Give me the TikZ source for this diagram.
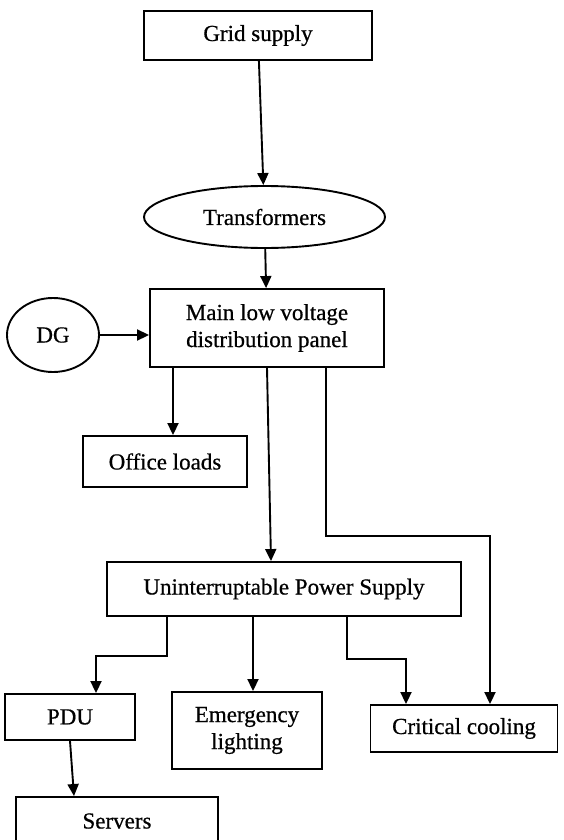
\documentclass[tikz,border=0pt]{standalone}
\usepackage{fontspec}
\setmainfont{Liberation Serif}
\newfontfamily\diagfont[FakeBold=0.6]{Liberation Serif}
\usetikzlibrary{shapes.geometric,arrows.meta,positioning,calc}

\begin{document}
\begin{tikzpicture}[x=1pt,y=-1pt,
    arrow/.style = {line width=1.9pt,-{Triangle[length=12pt,width=11pt]}}]
	\tikzset{blk/.style={draw,line width=1.9pt,rectangle,inner sep=0pt,align=center,font=\diagfont\fontsize{23}{27}\selectfont}}
	\tikzset{oval/.style={draw,line width=1.9pt,ellipse,inner sep=0pt,align=center,font=\diagfont\fontsize{23}{27}\selectfont}}

	\useasboundingbox (0,0) rectangle (563,840);

	% Supply side
	\node[blk, minimum width=228pt, minimum height=49pt] (grid) at (258,35.5) {Grid supply};

	\node[oval, minimum width=241pt, minimum height=62pt] (trans) at (264.5,217) {Transformers};

	\node[blk, minimum width=234pt, minimum height=78pt] (panel) at (267,328) {Main low voltage\\distribution panel};

	\node[oval, minimum width=92pt, minimum height=74pt] (dg) at (53,335) {DG};

	% Loads
	\node[blk, minimum width=164pt, minimum height=51pt] (office) at (165,461.5) {Office loads};

	\node[blk, minimum width=354pt, minimum height=54pt] (ups) at (284,589) {Uninterruptable Power Supply};

	\node[blk, minimum width=130pt, minimum height=46pt] (pdu) at (70,717) {PDU};

	\node[blk, minimum width=150pt, minimum height=77pt] (emer) at (247,730.5) {Emergency\\lighting};

	\node[blk, minimum width=187pt, minimum height=47pt] (cool) at (464,728.5) {Critical cooling};

	\node[blk, minimum width=202pt, minimum height=48pt] (srv) at (117,821) {Servers};

	% Arrows
	\draw [arrow] (grid) -- (trans);
	\draw [arrow] (trans) -- (panel);
	\draw [arrow] (dg.east) -- (panel.west |- dg.east);
	\draw [arrow] ([xshift=-94pt]panel.south) -- ([xshift=8pt]office.north);
	\draw [arrow] (panel.south) -- ([xshift=-13pt]ups.north);
	\draw [arrow] ([xshift=59pt]panel.south) -- ++(0,168) -| ([xshift=26pt]cool.north);

	\draw [arrow] ([xshift=-117pt]ups.south) -- ++(0,39) -| ([xshift=26pt]pdu.north);
	\draw [arrow] ([xshift=-31pt]ups.south) -- ([xshift=6pt]emer.north);
	\draw [arrow] ([xshift=63pt]ups.south) -- ++(0,42) -| ([xshift=-58pt]cool.north);
	\draw [arrow] (pdu.south) -- ([xshift=-43pt]srv.north);

\end{tikzpicture}
\end{document}
